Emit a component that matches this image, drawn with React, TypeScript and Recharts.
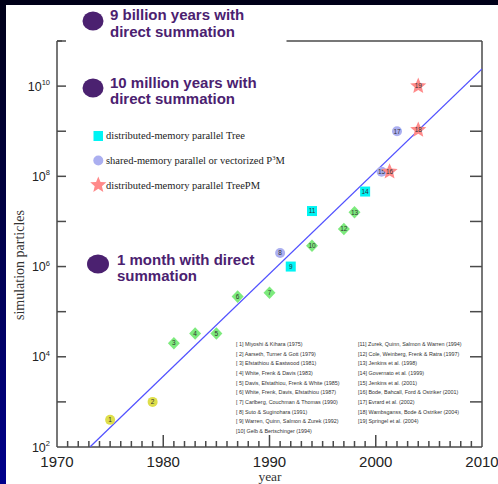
import React from "react";
import { ScatterChart, Scatter, XAxis, YAxis, ReferenceLine } from "recharts";

// N-body simulation sizes over time (year, particle count)
const yellowPoints = [
  { id: 1, year: 1975, n: 400 },
  { id: 2, year: 1979, n: 1000 },
];
const greenPoints = [
  { id: 3, year: 1981, n: 20000 },
  { id: 4, year: 1983, n: 32768 },
  { id: 5, year: 1985, n: 32768 },
  { id: 6, year: 1987, n: 216000 },
  { id: 7, year: 1990, n: 262144 },
  { id: 10, year: 1994, n: 2.9e6 },
  { id: 12, year: 1997, n: 6.8e6 },
  { id: 13, year: 1998, n: 1.6e7 },
];
const treePoints = [
  { id: 9, year: 1992, n: 1.0e6 },
  { id: 11, year: 1994, n: 1.7e7 },
  { id: 14, year: 1999, n: 4.6e7 },
];
const p3mPoints = [
  { id: 8, year: 1991, n: 2.0e6 },
  { id: 15, year: 2000.55, n: 1.27e8 },
  { id: 17, year: 2002, n: 1.0e9 },
];
const treePMPoints = [
  { id: 16, year: 2001.3, n: 1.27e8 },
  { id: 18, year: 2004, n: 1.07e9 },
  { id: 19, year: 2004, n: 1.0e10 },
];
const fitLine = [
  { year: 1973.1, n: 100 },
  { year: 2010, n: 2.4e10 },
];

const yearTicks = Array.from({ length: 41 }, (_, i) => 1970 + i);
const topYearTicks = yearTicks.filter((y) => y >= 1992);
const decadeTicks = [1e2, 1e3, 1e4, 1e5, 1e6, 1e7, 1e8, 1e9, 1e10, 1e11];

const legendLabels = [
  "distributed-memory parallel Tree",
  "shared-memory parallel or vectorized P",
  "distributed-memory parallel TreePM",
];
const noteLines = [
  ["9 billion years with", "direct summation"],
  ["10 million years with", "direct summation"],
  ["1 month with direct", "summation"],
];
const refsLeft = [
  "[ 1] Miyoshi & Kihara (1975)",
  "[ 2] Aarseth, Turner & Gott (1979)",
  "[ 3] Efstathiou & Eastwood (1981)",
  "[ 4] White, Frenk & Davis (1983)",
  "[ 5] Davis, Efstathiou, Frenk & White (1985)",
  "[ 6] White, Frenk, Davis, Efstathiou (1987)",
  "[ 7] Carlberg, Couchman & Thomas (1990)",
  "[ 8] Suto & Suginohara (1991)",
  "[ 9] Warren, Quinn, Salmon & Zurek (1992)",
  "[10] Gelb & Bertschinger (1994)",
];
const refsRight = [
  "[11] Zurek, Quinn, Salmon & Warren (1994)",
  "[12] Cole, Weinberg, Frenk & Ratra (1997)",
  "[13] Jenkins et al. (1998)",
  "[14] Governato et al. (1999)",
  "[15] Jenkins et al. (2001)",
  "[16] Bode, Bahcall, Ford & Ostriker (2001)",
  "[17] Evrard et al. (2002)",
  "[18] Wambsganss, Bode & Ostriker (2004)",
  "[19] Springel et al. (2004)",
];

const AXIS = "#4a4a4a";
const AXIS_W = 1.5;
const PURPLE = "#4b2170";
const SANS = "'Liberation Sans', Arial, sans-serif";
const SERIF = "'Liberation Serif', 'Times New Roman', serif";

// plot frame edges (from the chart margins + axis sizes below)
const W = 498;
const H = 484;
const M = { top: 36, right: 10, bottom: 7, left: 7 };
const X_AXIS_H = 30;
const TOP_AXIS_H = 5;
const Y_AXIS_W = 50;
const R_AXIS_W = 6;
const LEFT = M.left + Y_AXIS_W;
const RIGHT = W - M.right - R_AXIS_W;
const TOP = M.top + TOP_AXIS_H;
const BOTTOM = H - M.bottom - X_AXIS_H;

const Num = ({ x, y, id }: { x: number; y: number; id?: number }) =>
  id == null ? null : (
    <text x={x} y={y + 2.3} textAnchor="middle" fontSize={6.5} fontFamily={SANS} fill="#333">
      {id}
    </text>
  );

const starPath = (cx: number, cy: number, R: number, r: number) => {
  let d = "";
  for (let i = 0; i < 10; i++) {
    const a = ((-90 + i * 36) * Math.PI) / 180;
    const rad = i % 2 === 0 ? R : r;
    d += (i === 0 ? "M" : "L") + (cx + rad * Math.cos(a)).toFixed(2) + "," + (cy + rad * Math.sin(a)).toFixed(2);
  }
  return d + "Z";
};

const CircleMark = (fill: string) => (p: any) => (
  <g>
    <circle cx={p.cx} cy={p.cy} r={5} fill={fill} />
    <Num x={p.cx} y={p.cy} id={p.payload?.id} />
  </g>
);
const DiamondMark = (p: any) => (
  <g>
    <path d={`M${p.cx},${p.cy - 6.3}L${p.cx + 6},${p.cy}L${p.cx},${p.cy + 6.3}L${p.cx - 6},${p.cy}Z`} fill="#7dea7d" />
    <Num x={p.cx} y={p.cy} id={p.payload?.id} />
  </g>
);
const SquareMark = (p: any) => (
  <g>
    <rect x={p.cx - 5} y={p.cy - 5} width={10} height={10} fill="#00f4f4" />
    <Num x={p.cx} y={p.cy} id={p.payload?.id} />
  </g>
);
const StarMark = (p: any) => (
  <g>
    <path d={starPath(p.cx, p.cy, 8.5, 3.8)} fill="#ff8a8a" />
    <Num x={p.cx} y={p.cy} id={p.payload?.id} />
  </g>
);
const NoMark = () => <g />;

const BottomTick = (p: any) => {
  const yr = p.payload.value;
  const major = yr % 10 === 0;
  return (
    <g>
      {yr !== 1970 && yr !== 2010 && (
        <line x1={p.x} x2={p.x} y1={BOTTOM} y2={BOTTOM - (major ? 12 : 6)} stroke={AXIS} strokeWidth={AXIS_W} />
      )}
      {major && (
        <text x={p.x} y={BOTTOM + 20} textAnchor="middle" fontSize={15} fontFamily={SANS} fill="#222">
          {yr}
        </text>
      )}
    </g>
  );
};
const TopTick = (p: any) => {
  const yr = p.payload.value;
  if (yr === 2010) return <g />;
  return <line x1={p.x} x2={p.x} y1={TOP} y2={TOP + (yr % 10 === 0 ? 12 : 6)} stroke={AXIS} strokeWidth={AXIS_W} />;
};
const LeftTick = (p: any) => {
  const e = Math.round(Math.log10(p.payload.value));
  return (
    <g>
      {e > 2 && <line x1={LEFT} x2={LEFT + 9} y1={p.y} y2={p.y} stroke={AXIS} strokeWidth={AXIS_W} />}
      {e % 2 === 0 && e <= 10 && (
        <text x={LEFT - 7} y={p.y + 4.5} textAnchor="end" fontSize={12.5} fontFamily={SANS} fill="#222">
          10
          <tspan dy={-5.5} fontSize={7.5}>
            {e}
          </tspan>
        </text>
      )}
    </g>
  );
};
const RightTick = (p: any) => {
  const e = Math.round(Math.log10(p.payload.value));
  if (e === 2 || e === 11) return <g />;
  return <line x1={RIGHT} x2={RIGHT - 12} y1={p.y} y2={p.y} stroke={AXIS} strokeWidth={AXIS_W} />;
};

export default function App() {
  return (
    <div
      style={{
        position: "absolute",
        left: 0,
        top: 0,
        width: W,
        height: H,
        background: "linear-gradient(180deg, #000018 0%, #000040 40%, #00008c 100%)",
        overflow: "hidden",
      }}
    >
      <div style={{ position: "absolute", left: 6, top: 5, width: 492, height: 479, background: "#fff" }} />
      <div style={{ position: "absolute", left: 0, top: 0 }}>
        <ScatterChart width={W} height={H} margin={M}>
          <XAxis
            xAxisId="b"
            type="number"
            dataKey="year"
            domain={[1970, 2010]}
            ticks={yearTicks}
            interval={0}
            allowDataOverflow
            height={X_AXIS_H}
            tickSize={0}
            tickMargin={0}
            tickLine={false}
            axisLine={{ stroke: AXIS, strokeWidth: AXIS_W }}
            tick={BottomTick}
          />
          <XAxis
            xAxisId="t"
            orientation="top"
            type="number"
            domain={[1970, 2010]}
            ticks={topYearTicks}
            interval={0}
            allowDataOverflow
            height={TOP_AXIS_H}
            tickSize={0}
            tickMargin={0}
            tickLine={false}
            axisLine={false}
            tick={TopTick}
          />
          <YAxis
            yAxisId="l"
            type="number"
            dataKey="n"
            scale="log"
            domain={[1e2, 1e11]}
            ticks={decadeTicks}
            interval={0}
            allowDataOverflow
            width={Y_AXIS_W}
            tickSize={0}
            tickMargin={0}
            tickLine={false}
            axisLine={{ stroke: AXIS, strokeWidth: AXIS_W }}
            tick={LeftTick}
          />
          <YAxis
            yAxisId="r"
            orientation="right"
            type="number"
            scale="log"
            domain={[1e2, 1e11]}
            ticks={decadeTicks}
            interval={0}
            allowDataOverflow
            width={R_AXIS_W}
            tickSize={0}
            tickMargin={0}
            tickLine={false}
            axisLine={{ stroke: AXIS, strokeWidth: AXIS_W }}
            tick={RightTick}
          />
          <ReferenceLine
            xAxisId="b"
            yAxisId="l"
            segment={[
              { x: 1991.6, y: 1e11 },
              { x: 2010, y: 1e11 },
            ]}
            stroke={AXIS}
            strokeWidth={AXIS_W}
          />
          <Scatter
            xAxisId="b"
            yAxisId="l"
            data={fitLine}
            line={{ stroke: "#5252ff", strokeWidth: 1.3 }}
            shape={NoMark}
            isAnimationActive={false}
          />
          <Scatter xAxisId="b" yAxisId="l" data={yellowPoints} shape={CircleMark("#dede4a")} isAnimationActive={false} />
          <Scatter xAxisId="b" yAxisId="l" data={greenPoints} shape={DiamondMark} isAnimationActive={false} />
          <Scatter xAxisId="b" yAxisId="l" data={treePoints} shape={SquareMark} isAnimationActive={false} />
          <Scatter xAxisId="b" yAxisId="l" data={p3mPoints} shape={CircleMark("#abaff0")} isAnimationActive={false} />
          <Scatter xAxisId="b" yAxisId="l" data={treePMPoints} shape={StarMark} isAnimationActive={false} />
        </ScatterChart>
      </div>
      <svg width={W} height={H} style={{ position: "absolute", left: 0, top: 0, pointerEvents: "none" }}>
        {/* small tick at the top-left corner of the frame */}
        <line x1={LEFT} x2={LEFT + 5} y1={TOP} y2={TOP} stroke={AXIS} strokeWidth={AXIS_W} />

        {/* direct-summation notes */}
        <ellipse cx={93} cy={21} rx={10.5} ry={9.5} fill={PURPLE} />
        <ellipse cx={93} cy={88} rx={10.5} ry={9.5} fill={PURPLE} />
        <ellipse cx={98} cy={264} rx={11} ry={9.5} fill={PURPLE} />
        <g fontFamily={SANS} fontWeight="bold" fontSize={15} fill={PURPLE}>
          <text x={110} y={20}>{noteLines[0][0]}</text>
          <text x={110} y={37}>{noteLines[0][1]}</text>
          <text x={110} y={88}>{noteLines[1][0]}</text>
          <text x={110} y={104}>{noteLines[1][1]}</text>
          <text x={117} y={265}>{noteLines[2][0]}</text>
          <text x={117} y={281}>{noteLines[2][1]}</text>
        </g>

        {/* legend */}
        <rect x={93.5} y={131} width={9.5} height={10} fill="#00f4f4" />
        <circle cx={98.3} cy={160.5} r={5} fill="#abaff0" />
        <path d={starPath(98.3, 185, 8.5, 3.8)} fill="#ff8a8a" />
        <g fontFamily={SERIF} fontSize={10.5} fill="#222">
          <text x={106} y={139}>{legendLabels[0]}</text>
          <text x={106} y={164}>
            {legendLabels[1]}
            <tspan dy={-4} fontSize={6.5}>3</tspan>
            <tspan dy={4}>M</tspan>
          </text>
          <text x={106} y={189}>{legendLabels[2]}</text>
        </g>

        {/* references */}
        <g fontFamily={SANS} fontSize={5.4} fill="#333">
          {refsLeft.map((t, i) => (
            <text key={t} x={236} y={346 + i * 9.65}>{t}</text>
          ))}
          {refsRight.map((t, i) => (
            <text key={t} x={358} y={346 + i * 9.65}>{t}</text>
          ))}
        </g>

        {/* axis titles */}
        <text x={270} y={481} textAnchor="middle" fontFamily={SERIF} fontSize={13.5} fill="#333">
          year
        </text>
        <text
          x={0}
          y={0}
          transform="translate(24,265) rotate(-90)"
          textAnchor="middle"
          fontFamily={SERIF}
          fontSize={14}
          fill="#333"
        >
          simulation particles
        </text>
      </svg>
    </div>
  );
}
